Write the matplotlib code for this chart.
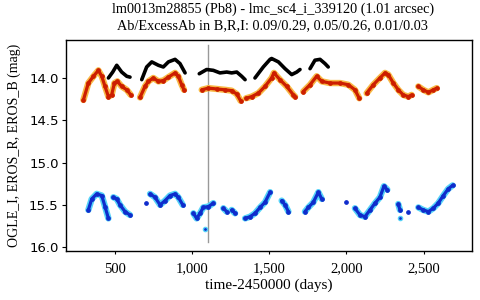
import numpy as np
import matplotlib
matplotlib.use("Agg")
import matplotlib.pyplot as plt

nan = np.nan
# OGLE I (black)
ogle_t = [457, 485, 511, 543, 576, 597, nan,
          673, 705, 738, 781, 813, 846, 889, 921, 954, nan,
          1046, 1094, 1137, 1180, 1224, 1256, 1289, 1321, 1343, nan,
          1407, 1461, 1505, 1515, 1559, 1602, 1645, 1678, 1699, nan,
          1764, 1796, 1829, 1861, 1882]
ogle_m = [14.00, 13.93, 13.85, 13.93, 13.98, 13.99, nan,
          14.02, 13.87, 13.81, 13.85, 13.87, 13.81, 13.78, 13.83, 13.94, nan,
          13.95, 13.90, 13.91, 13.94, 13.93, 13.94, 13.93, 13.98, 14.02, nan,
          14.00, 13.87, 13.78, 13.77, 13.81, 13.89, 13.96, 13.93, 13.90, nan,
          13.89, 13.79, 13.78, 13.83, 13.87]
# EROS R (red)
erosr_t = [295, 327, 360, 392, 414, 435, 457, 478, 496, 515, 543, 576, 602, nan,
           662, 694, 716, 748, 781, 813, 846, 889, 910, 932, 947, nan,
           1062, 1105, 1159, 1213, 1256, 1289, 1314, nan,
           1349, 1386, 1429, 1472, 1515, 1530, 1569, 1613, 1656, 1667, nan,
           1720, 1764, 1807, 1840, 1893, 1958, 2012, 2055, 2083, nan,
           2131, 2174, 2217, 2250, 2271, 2304, 2336, 2368, 2401, 2422, nan,
           2466, 2498, 2531, 2563, 2585]
erosr_m = [14.26, 14.06, 13.98, 13.91, 13.98, 14.10, 14.22, 14.20, 14.06, 14.04, 14.10, 14.14, 14.20, nan,
           14.23, 14.10, 14.04, 14.00, 14.04, 14.03, 13.99, 13.94, 13.98, 14.08, 14.14, nan,
           14.14, 14.12, 14.13, 14.14, 14.15, 14.19, 14.27, nan,
           14.24, 14.22, 14.18, 14.10, 14.00, 13.94, 14.02, 14.10, 14.20, 14.22, nan,
           14.16, 14.08, 13.98, 14.04, 14.06, 14.06, 14.08, 14.14, 14.24, nan,
           14.18, 14.08, 14.00, 13.94, 13.96, 14.06, 14.14, 14.20, 14.22, 14.20, nan,
           14.10, 14.14, 14.17, 14.14, 14.12]
# EROS B (blue)
erosb_t = [327, 349, 381, 414, 435, 457, nan,
           489, 511, 532, 565, 597, nan,
           701, nan,
           727, 759, 792, 824, 856, 889, 910, 939, nan,
           1008, 1029, 1051, 1072, 1105, 1137, nan,
           1202, 1224, nan, 1256, 1278, nan,
           1343, 1375, 1407, 1440, 1472, 1505, nan,
           1580, 1602, 1624, nan,
           1731, 1753, 1785, 1818, 1840, nan,
           1997, nan,
           2055, 2088, 2120, 2153, 2185, 2217, 2243, 2265, nan,
           2336, 2347, nan, 2401, nan,
           2466, 2498, 2531, 2563, 2595, 2628, 2660, 2688]
erosb_m = [15.56, 15.43, 15.37, 15.39, 15.52, 15.66, nan,
           15.41, 15.43, 15.50, 15.58, 15.62, nan,
           15.48, nan,
           15.37, 15.41, 15.50, 15.45, 15.39, 15.37, 15.41, 15.50, nan,
           15.60, 15.66, 15.60, 15.53, 15.52, 15.48, nan,
           15.54, 15.58, nan, 15.56, 15.60, nan,
           15.66, 15.64, 15.60, 15.53, 15.47, 15.35, nan,
           15.45, 15.50, 15.58, nan,
           15.58, 15.53, 15.47, 15.35, 15.43, nan,
           15.47, nan,
           15.54, 15.62, 15.64, 15.56, 15.48, 15.41, 15.28, 15.32, nan,
           15.49, 15.56, nan, 15.58, nan,
           15.53, 15.56, 15.58, 15.54, 15.48, 15.39, 15.31, 15.27]
# extra single points
erosb_extra_t = [1083, 2347]
erosb_extra_m = [15.79, 15.66]

event_t = 1100
title = ("lm0013m28855 (Pb8) - lmc_sc4_i_339120 (1.01 arcsec)\n"
         "Ab/ExcessAb in B,R,I: 0.09/0.29, 0.05/0.26, 0.01/0.03")
xticks = [500, 1000, 1500, 2000, 2500]
yticks = [14.0, 14.5, 15.0, 15.5, 16.0]

fig = plt.figure(figsize=(4.8, 3.0), dpi=100)
ax = fig.add_axes([0.1365, 0.162, 0.8475, 0.705])

serif = "Liberation Serif"

# blue with cyan halo
ax.plot(erosb_t, erosb_m, color="#55d2f8", lw=4.6, solid_capstyle="round", zorder=2)
ax.plot(erosb_t, erosb_m, color="#0f2ccc", lw=2.3, marker="o", ms=2.4, solid_capstyle="round", zorder=3)
ax.plot(erosb_extra_t, erosb_extra_m, ls="none", marker="o", ms=3, color="#0f2ccc",
        mec="#55d2f8", mew=1.0, zorder=3)
# red with orange halo
ax.plot(erosr_t, erosr_m, color="#f8b845", lw=4.6, solid_capstyle="round", zorder=2)
ax.plot(erosr_t, erosr_m, color="#cc1e00", lw=2.3, marker="o", ms=2.4, solid_capstyle="round", zorder=3)
# black
ax.plot(ogle_t, ogle_m, color="black", lw=2.6, solid_capstyle="round", zorder=4)

ax.axvline(event_t, ymin=0.045, ymax=0.976, color="#999999", lw=1.0, zorder=1)

ax.set_xlim(179, 2816)
ax.set_ylim(16.05, 13.55)
ax.set_xticks(xticks)
ax.set_xticklabels([f"{v:,}" for v in xticks], fontfamily=serif, fontsize=10.5)
ax.set_yticks(yticks)
ax.set_yticklabels([f"{v:.1f}" for v in yticks], fontfamily="DejaVu Sans", fontsize=9.5)
ax.tick_params(axis="x", length=2, width=0.8, pad=6)
ax.tick_params(axis="y", length=3, width=0.8, pad=2)
for s in ax.spines.values():
    s.set_linewidth(1.0)

ax.set_xlabel("time-2450000 (days)", fontfamily=serif, fontsize=11, labelpad=2)
ax.set_ylabel("OGLE_I, EROS_R, EROS_B (mag)", fontfamily=serif, fontsize=10, labelpad=6)
fig.text(0.568, 0.99, title, ha="center", va="top", fontfamily=serif, fontsize=10.3,
         linespacing=1.3)

fig.savefig("out.png", dpi=100)
